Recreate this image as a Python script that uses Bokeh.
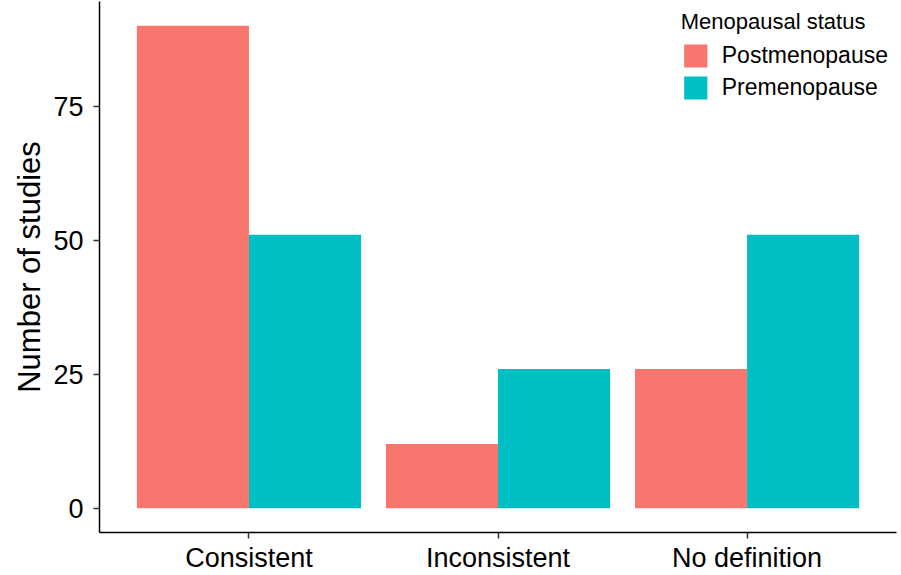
from bokeh.plotting import figure
from bokeh.models import FactorRange, Range1d, Legend, LegendItem, ColumnDataSource, FixedTicker
from bokeh.transform import dodge
from bokeh.embed import file_html
from bokeh.resources import INLINE

categories = ["Consistent", "Inconsistent", "No definition"]
postmenopause = [90, 12, 26]
premenopause = [51, 26, 51]
series_names = ["Postmenopause", "Premenopause"]
series_colors = ["#F8766D", "#00BFC4"]
y_ticks = [0, 25, 50, 75]

src = ColumnDataSource(dict(cat=categories, post=postmenopause, pre=premenopause))

FONT = "Liberation Sans"

p = figure(width=901, height=575, output_backend="svg", toolbar_location=None,
           x_range=FactorRange(*categories, range_padding=0.1, range_padding_units="absolute"),
           y_range=Range1d(-4.5, 94.5),
           min_border_left=99, min_border_right=5, min_border_top=1, min_border_bottom=43)

r1 = p.vbar(x=dodge("cat", -0.225, range=p.x_range), top="post", bottom=0, width=0.45,
            source=src, fill_color=series_colors[0], line_color=None)
r2 = p.vbar(x=dodge("cat", 0.225, range=p.x_range), top="pre", bottom=0, width=0.45,
            source=src, fill_color=series_colors[1], line_color=None)

p.xgrid.visible = False
p.ygrid.visible = False
p.outline_line_color = None

for ax in (p.xaxis, p.yaxis):
    ax.axis_line_color = "black"
    ax.axis_line_width = 1.5
    ax.major_tick_line_color = "#333333"
    ax.major_tick_line_width = 1.5
    ax.major_tick_out = 6
    ax.major_tick_in = 0
    ax.minor_tick_line_color = None
    ax.major_label_text_font = FONT
    ax.major_label_text_color = "black"
    ax.major_label_text_font_size = "27px"

p.xaxis.major_label_standoff = 4
p.yaxis.major_label_standoff = 10

p.yaxis.ticker = FixedTicker(ticks=y_ticks)
p.yaxis.axis_label = "Number of studies"
p.yaxis.axis_label_text_font = FONT
p.yaxis.axis_label_text_font_style = "normal"
p.yaxis.axis_label_text_font_size = "31px"
p.yaxis.axis_label_text_color = "black"
p.yaxis.axis_label_standoff = 3

legend = Legend(items=[LegendItem(label=series_names[0], renderers=[r1]),
                       LegendItem(label=series_names[1], renderers=[r2])],
                location="top_right", title="Menopausal status")
legend.title_text_font = FONT
legend.title_text_font_style = "normal"
legend.title_text_font_size = "22px"
legend.title_standoff = 6
legend.label_text_font = FONT
legend.label_text_font_size = "23px"
legend.label_text_color = "black"
legend.title_text_color = "black"
legend.glyph_width = 29
legend.glyph_height = 29
legend.label_height = 29
legend.spacing = 3
legend.label_standoff = 12
legend.padding = 4
legend.margin = 8
legend.border_line_color = None
legend.background_fill_alpha = 0
p.add_layout(legend)

open("out.html", "w").write(file_html(p, INLINE))
